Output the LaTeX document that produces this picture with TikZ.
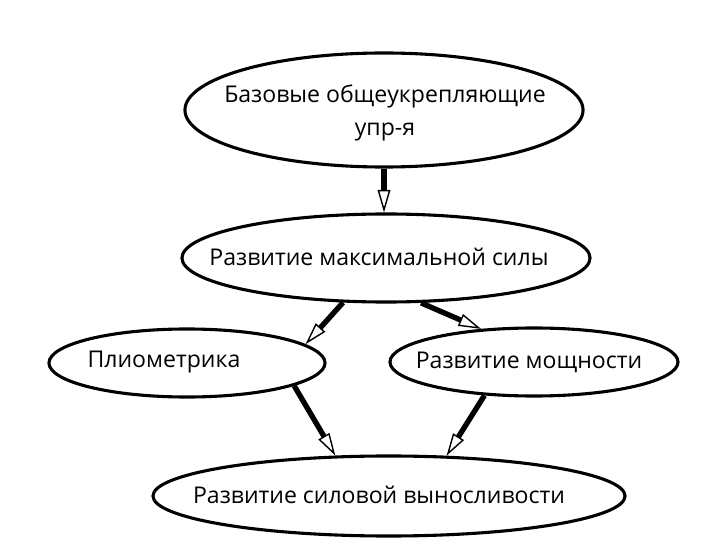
\documentclass[tikz,border=0pt]{standalone}
\usepackage{fontspec}
\setmainfont{Open Sans}
\usetikzlibrary{shapes.geometric,arrows.meta}
\tikzset{
  oval/.style={ellipse, draw=black, line width=2.2pt, inner sep=0pt},
  txt/.style={inner sep=0pt, align=center, font=\fontsize{16.4}{23.5}\selectfont},
  flow/.style={line width=3.8pt, -{Triangle[fill=white, length=16pt, width=9pt, line width=1pt]}},
}
\begin{document}
\begin{tikzpicture}[x=0.025cm, y=-0.025cm]
\useasboundingbox[fill=white] (0,0) rectangle (726,551);
\node[oval, minimum width=9.95cm, minimum height=2.85cm] (top) at (384,110) {};
\node[txt] (topt) at (385,113) {Базовые общеукрепляющие\\упр-я};
\node[oval, minimum width=10.2cm, minimum height=2.2cm] (max) at (386,258) {};
\node[txt] (maxt) at (379,257) {Развитие максимальной силы};
\node[oval, minimum width=6.9cm, minimum height=1.7cm] (plio) at (187,363) {};
\node[txt] (pliot) at (164,362) {Плиометрика};
\node[oval, minimum width=7.2cm, minimum height=1.7cm] (mosh) at (534,362) {};
\node[txt] (mosht) at (529,362) {Развитие мощности};
\node[oval, minimum width=11.8cm, minimum height=2.0cm] (end) at (389,496) {};
\node[txt] (endt) at (379,495) {Развитие силовой выносливости};
\draw[flow] (top.south) -- (top.south |- max.north);
\draw[flow] (max.226) -- (plio.9);
\draw[flow] (max.308) -- (mosh.148);
\draw[flow] (plio.348) -- (end.143);
\draw[flow] (mosh.214) -- (end.35);
\end{tikzpicture}
\end{document}
